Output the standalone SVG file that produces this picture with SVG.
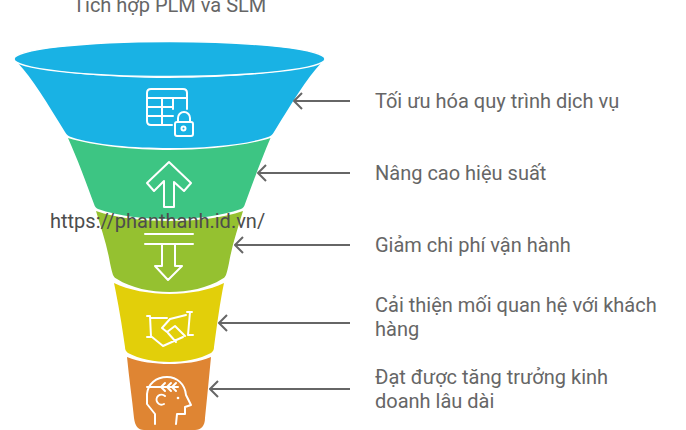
<svg xmlns="http://www.w3.org/2000/svg" width="686" height="430" viewBox="0 0 686 430">
<style>
text{font-family:Roboto,"Liberation Sans",sans-serif;font-size:20px;fill:#666}
.i{fill:none;stroke:#fff;stroke-width:2;stroke-linecap:round;stroke-linejoin:round}
.c{fill:none;stroke:#666;stroke-width:2;stroke-linejoin:round}
</style>
<rect width="686" height="430" fill="#fff"/>
<text id="title" x="73" y="12">Tích hợp PLM và SLM</text>
<g id="node-1">
<path d="M17 62C38 71 103 78 169.500 78C236 78 301 71 322 62C306 79 292 103 274 132C272 135 271 136 268 137C245 145 205 148 169.500 148C134 148 94 145 71 137C68 136 67 135 65 132C47 103 33 79 17 62Z" fill="#19b2e4"/>
<ellipse cx="169.500" cy="59" rx="155.500" ry="17.500" fill="#19b2e4" stroke="#fff" stroke-width="1.500"/>
<path class="i" d="M187 109V93Q187 89 183 89H151Q147 89 147 93V121Q147 125 151 125H172M147 98H187M147 107H173M147 116H173M162 98V125M173 98V109"/>
<rect class="i" x="175" y="122" width="18" height="14" rx="2"/>
<path class="i" d="M178 122V118A6 6 0 0 1 190 118V122"/>
<circle class="i" cx="183.500" cy="128.500" r="2"/>
</g>
<g id="node-2">
<path d="M68 138C94 146 134 150 169.500 150C205 150 245 146 270.500 138C262 158 253 182 245 204C244 207 243 208 241 209C221 216 195 219 169.500 219C144 219 118 216 98 209C96 208 95 207 94 204C86 182 77 158 68 138Z" fill="#3dc583"/>
<path class="i" d="M169 162L191 183L184 191L174 182V207H164V181L154 191L147 183Z"/>
</g>
<g id="node-3">
<path d="M96 211C116 218 144 221 169.500 221C195 221 223 218 243 211C238 228 232 245 229 263C228 268 227 272 226 275C225 277 224 278 222 279C208 288 188 292 169.500 292C151 292 131 288 117 279C115 278 114 277 113 275C112 272 111 268 110 263C107 245 101 228 96 211Z" fill="#95c130"/>
<path class="i" d="M145 234H193M145 244H193M162 244V266H155L168 280L182 266H175V244"/>
</g>
<g id="node-4">
<path d="M114 283C128 290 150 294 169.500 294C189 294 210 290 224 283C220 302 217 325 214 347C214 350 213 351 211 353C200 359 184 362 169.500 362C155 362 139 359 128 353C126 351 125 350 125 347C122 325 118 302 114 283Z" fill="#e2cf0a"/>
<path class="i" d="M147 316H150L151 337M147 337H152L163 346L183 337M150 318H167M187 312H192M190 312L188 335M188 335H193M186 315L170 319L162 328L167 332L175 326L185 336M168 333L176 342"/>
</g>
<g id="node-5">
<path d="M127 357C139 362 155 364 169.500 364C184 364 199 362 211 357C209 378 207 398 205 418C205 426 201 430 195 430H144C138 430 135 426 134 418C132 398 129 378 127 357Z" fill="#df8533"/>
<path class="i" d="M147 387H178M165 383L161 387L165 391M171 383L167 387L171 391M176 383L172 387L176 391M155 424V414L147 404V394C148 384 156 377 167 377C177 377 185 384 186 395L191 405L185 407V414H177L176 424M165 396A5 5 0 1 0 164 404"/>
<circle cx="178" cy="398" r="1.300" fill="#fff"/>
</g>
<g id="connectors">
<path class="c" d="M350 101H294M302 93L294 101L302 109"/>
<path class="c" d="M350 173H258M266 165L258 173L266 181"/>
<path class="c" d="M350 245H235M243 237L235 245L243 253"/>
<path class="c" d="M350 323H219M227 315L219 323L227 331"/>
<path class="c" d="M350 389H210M218 381L210 389L218 397"/>
</g>
<g id="labels">
<text x="375" y="108">Tối ưu hóa quy trình dịch vụ</text>
<text x="375" y="180">Nâng cao hiệu suất</text>
<text x="375" y="252">Giảm chi phí vận hành</text>
<text x="375" y="312">Cải thiện mối quan hệ với khách</text>
<text x="375" y="336">hàng</text>
<text x="375" y="384">Đạt được tăng trưởng kinh</text>
<text x="375" y="408">doanh lâu dài</text>
</g>
<text id="watermark" x="50" y="228" style="fill:#4d4d4d">https://phanthanh.id.vn/</text>
</svg>
